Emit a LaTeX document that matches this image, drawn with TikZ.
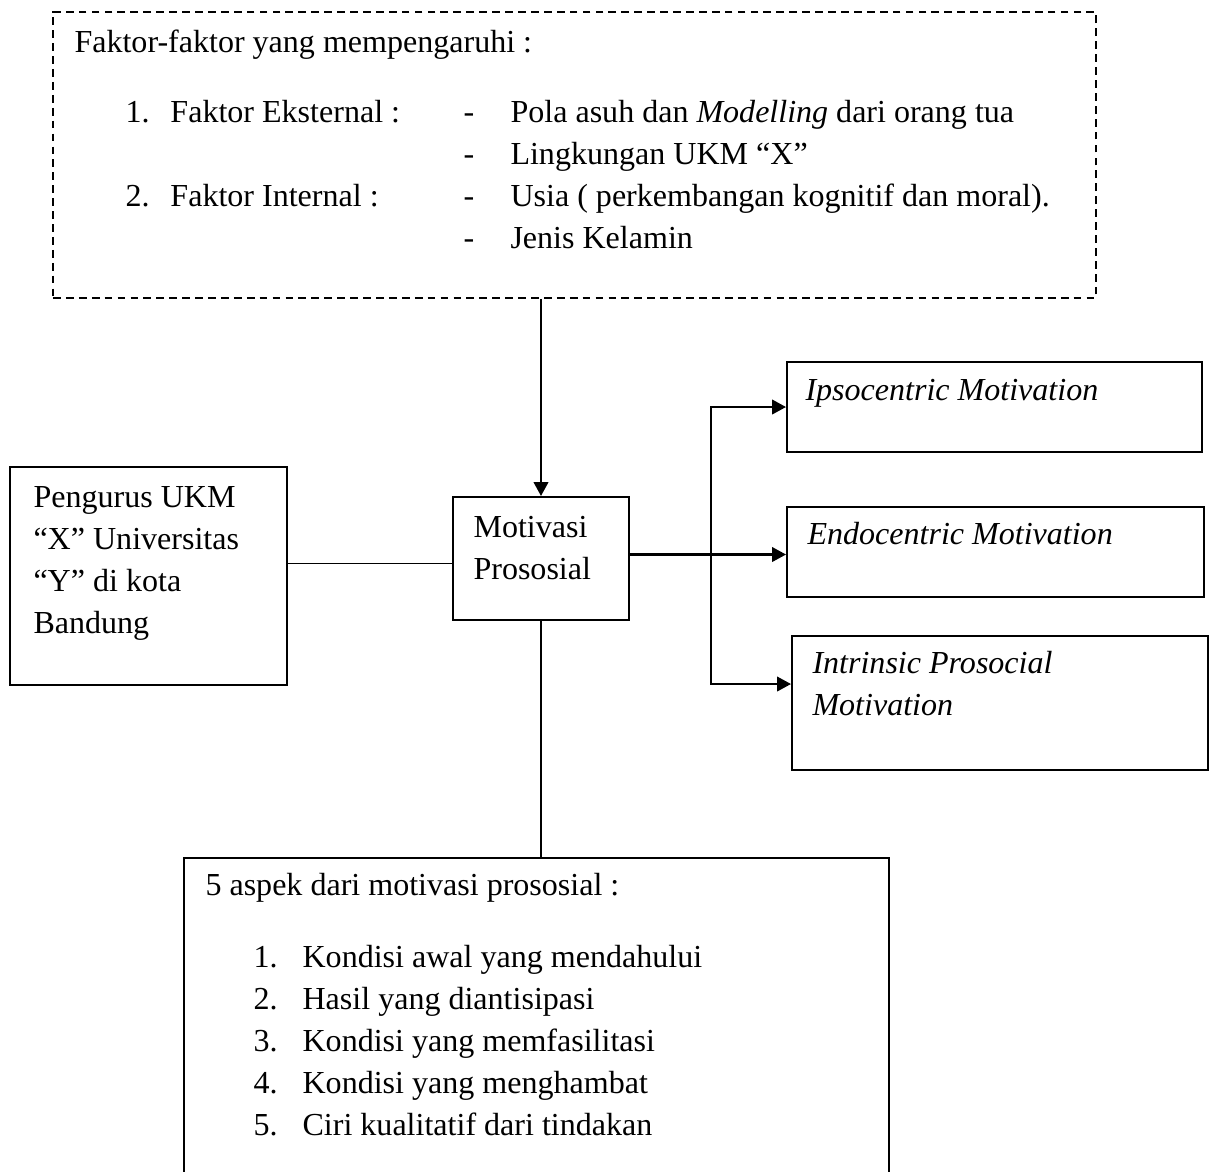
\documentclass[tikz,border=0pt]{standalone}
\usepackage{fontspec}
\setmainfont{Liberation Serif}
\usetikzlibrary{arrows.meta, calc, fit}
\tikzset{
    frame/.style ={draw, line width=0.75pt, inner sep=0pt},
    dframe/.style={frame, line width=0.65pt, dash pattern=on 3pt off 2pt},
    txt/.style   ={anchor=north west, align=left, inner sep=0pt,
                   font=\fontsize{12.4}{16.2}\selectfont},
    link/.style  ={line width=0.75pt},
    flow/.style  ={-{Triangle[length=5.4pt, width=5.6pt]}, line width=0.9pt},
}
\newcommand{\kol}[2]{\makebox[#1][l]{#2}}

\begin{document}
\begin{tikzpicture}[x=0.387pt, y=-0.387pt]
\useasboundingbox (0,0) rectangle (1211,1171);

% ===================== Faktor yang mempengaruhi =====================
\node[dframe, fit={(53,12) (1096,298)}] (fak) {};
\node[txt] (ftitle) at (74,29) {Faktor-faktor yang mempengaruhi :};
\node[txt] (flist) at (125,100)
     {\kol{17.4pt}{1.}\kol{113.4pt}{Faktor Eksternal :}\kol{18.2pt}{-}Pola asuh dan \textit{Modelling} dari orang tua\\
      \hspace*{130.8pt}\kol{18.2pt}{-}Lingkungan UKM ``X''\\
      \kol{17.4pt}{2.}\kol{113.4pt}{Faktor Internal :}\kol{18.2pt}{-}Usia ( perkembangan kognitif dan moral).\\
      \hspace*{130.8pt}\kol{18.2pt}{-}Jenis Kelamin};

% ===================== Subjek dan motivasi =====================
\node[frame, fit={(10,467) (287,685)}] (sub) {};
\node[txt] (stxt) at (33,486) {Pengurus UKM\\``X'' Universitas\\``Y'' di kota\\Bandung};

\node[frame, fit={(453,497) (629,620)}] (mot) {};
\node[txt] (mtxt) at (473,516) {Motivasi\\Prososial};

% ===================== Jenis motivasi =====================
\node[frame, fit={(787,362) (1202,452)}] (ipso) {};
\node[txt] (itxt) at (805,379) {\textit{Ipsocentric Motivation}};
\node[frame, fit={(787,507) (1204,597)}] (endo) {};
\node[txt] (etxt) at (807,522) {\textit{Endocentric Motivation}};
\node[frame, fit={(792,636) (1208,770)}] (intr) {};
\node[txt] (ntxt) at (812,651) {\textit{Intrinsic Prosocial}\\\textit{Motivation}};

% ===================== Aspek =====================
\node[frame, fit={(184,858) (889,1200)}] (asp) {};
\node[txt] (atitle) at (205,873) {5 aspek dari motivasi prososial :};
\node[txt] (alist) at (253,945)
     {\kol{19pt}{1.}Kondisi awal yang mendahului\\
      \kol{19pt}{2.}Hasil yang diantisipasi\\
      \kol{19pt}{3.}Kondisi yang memfasilitasi\\
      \kol{19pt}{4.}Kondisi yang menghambat\\
      \kol{19pt}{5.}Ciri kualitatif dari tindakan};

% ===================== Garis =====================
\draw[flow] (fak.south -| mot.north) -- (mot.north);
\coordinate (min) at ($(mot.west)+(0,5)$);
\draw[link] (min -| sub.east) -- (min);
\draw[link] (mot.south) -- (mot.south |- asp.north);

\coordinate (mout) at ($(mot.east)+(0,-4)$);
\coordinate (split) at ($(mout)+(81,0)$);
\draw[flow] (mout) -- (mout -| endo.west);
\draw[flow] (split) |- (ipso.west);
\draw[flow] (split) |- ($(intr.west)+(0,-19)$);

\end{tikzpicture}
\end{document}
